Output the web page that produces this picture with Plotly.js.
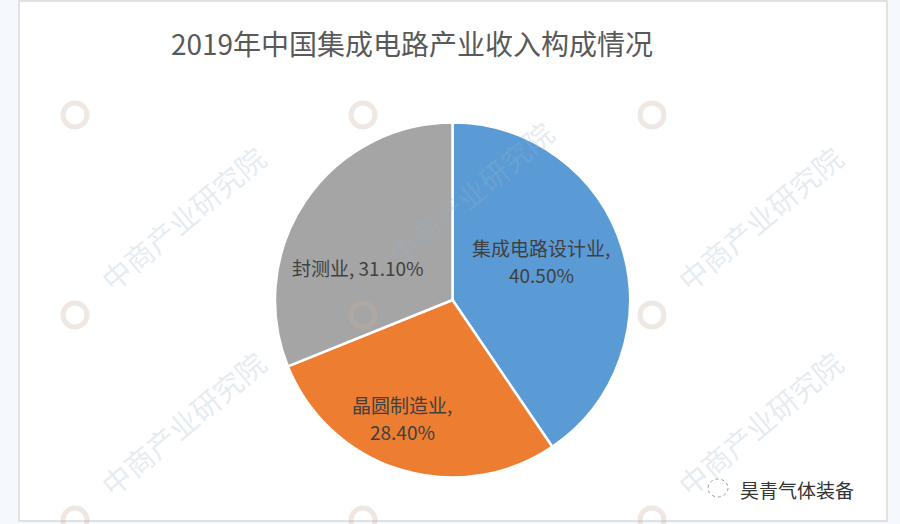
<!DOCTYPE html>
<html>
<head>
<meta charset="utf-8">
<script src="https://cdn.plot.ly/plotly-3.0.1.min.js"></script>
<style>
html,body{margin:0;padding:0;background:#f5f8fd;}
#chart{width:900px;height:524px;}
</style>
</head>
<body>
<div id="chart"></div>
<script>
const chartTitle = "2019年中国集成电路产业收入构成情况";
const categories = ["集成电路设计业", "晶圆制造业", "封测业"];
const shares = [40.5, 28.4, 31.1];
const sliceColors = ["#5B9BD5", "#ED7D31", "#A5A5A5"];
const labelTwoLines = [true, true, false];
const watermarkText = "中商产业研究院";
const footerText = "昊青气体装备";

const W = 900, H = 524;
const px = x => x / W;
const py = y => 1 - y / H;

const annotations = [];
const shapes = [];

// frame
shapes.push({type: "rect", xref: "paper", yref: "paper", x0: px(19), x1: px(887), y0: py(521), y1: py(1),
  fillcolor: "#ffffff", line: {color: "#d9d9d9", width: 1.5}, layer: "below"});

// watermarks (logo rings + text)
const colStarts = [90, 378, 667];
const rowStarts = [95, 295, 500];
colStarts.forEach((sx, ci) => {
  rowStarts.forEach((sy, ri) => {
    shapes.push({type: "circle", xref: "paper", yref: "paper",
      x0: px(sx - 27), x1: px(sx - 3), y0: py(sy + 32), y1: py(sy + 8),
      line: {color: "rgba(200,175,160,0.30)", width: 5}, layer: "above"});
    if (ri === 0) return;
    if (ci === 1 && ri === 2) return;
    const dy = (ci === 1) ? -25 : 0;
    annotations.push({
      x: px(sx + 92), y: py(sy - 77 + dy), xref: "paper", yref: "paper",
      text: watermarkText, showarrow: false, textangle: -40,
      font: {family: "Noto Sans CJK SC", size: 29, color: "rgba(150,180,205,0.26)"},
      xanchor: "center", yanchor: "middle"
    });
  });
});

// slice labels
const labelPos = [[541, 247], [402, 404], [358, 267]];
const lineGap = 27;
const total = shares.reduce((a, b) => a + b, 0);
const labelFont = {family: "Noto Sans CJK SC", size: 19, color: "#404040"};
categories.forEach((c, i) => {
  const pct = (shares[i] / total * 100).toFixed(2) + "%";
  const [lx, ly] = labelPos[i];
  if (labelTwoLines[i]) {
    annotations.push({x: px(lx), y: py(ly), xref: "paper", yref: "paper",
      xanchor: "center", yanchor: "middle", showarrow: false, text: c + ",", font: labelFont});
    annotations.push({x: px(lx), y: py(ly + lineGap), xref: "paper", yref: "paper",
      xanchor: "center", yanchor: "middle", showarrow: false, text: pct, font: labelFont});
  } else {
    annotations.push({x: px(lx), y: py(ly), xref: "paper", yref: "paper",
      xanchor: "center", yanchor: "middle", showarrow: false, text: c + ", " + pct, font: labelFont});
  }
});

// footer
shapes.push({type: "circle", xref: "paper", yref: "paper",
  x0: px(708), x1: px(728), y0: py(497), y1: py(479),
  line: {color: "#9a9a9a", width: 1, dash: "dot"}});
annotations.push({
  x: px(738), y: py(489), xref: "paper", yref: "paper", xanchor: "left", yanchor: "middle",
  text: footerText, showarrow: false,
  font: {family: "Noto Sans CJK SC", size: 19, color: "#333333"}
});

const trace = {
  type: "pie",
  labels: categories,
  values: shares,
  sort: false,
  direction: "clockwise",
  rotation: 0,
  marker: {colors: sliceColors, line: {color: "#ffffff", width: 2.5}},
  textinfo: "none",
  hoverinfo: "label+percent",
  showlegend: false,
  domain: {x: [px(275), px(630)], y: [py(478), py(122)]}
};

const layout = {
  width: W, height: H,
  margin: {l: 0, r: 0, t: 0, b: 0},
  paper_bgcolor: "#f5f8fd",
  title: {
    text: chartTitle, x: px(412), xanchor: "center", y: py(45), yanchor: "middle",
    font: {family: "Noto Sans CJK SC", size: 28, color: "#595959"}
  },
  showlegend: false,
  annotations: annotations,
  shapes: shapes
};

Plotly.newPlot("chart", [trace], layout, {displayModeBar: false, staticPlot: true});
</script>
</body>
</html>
